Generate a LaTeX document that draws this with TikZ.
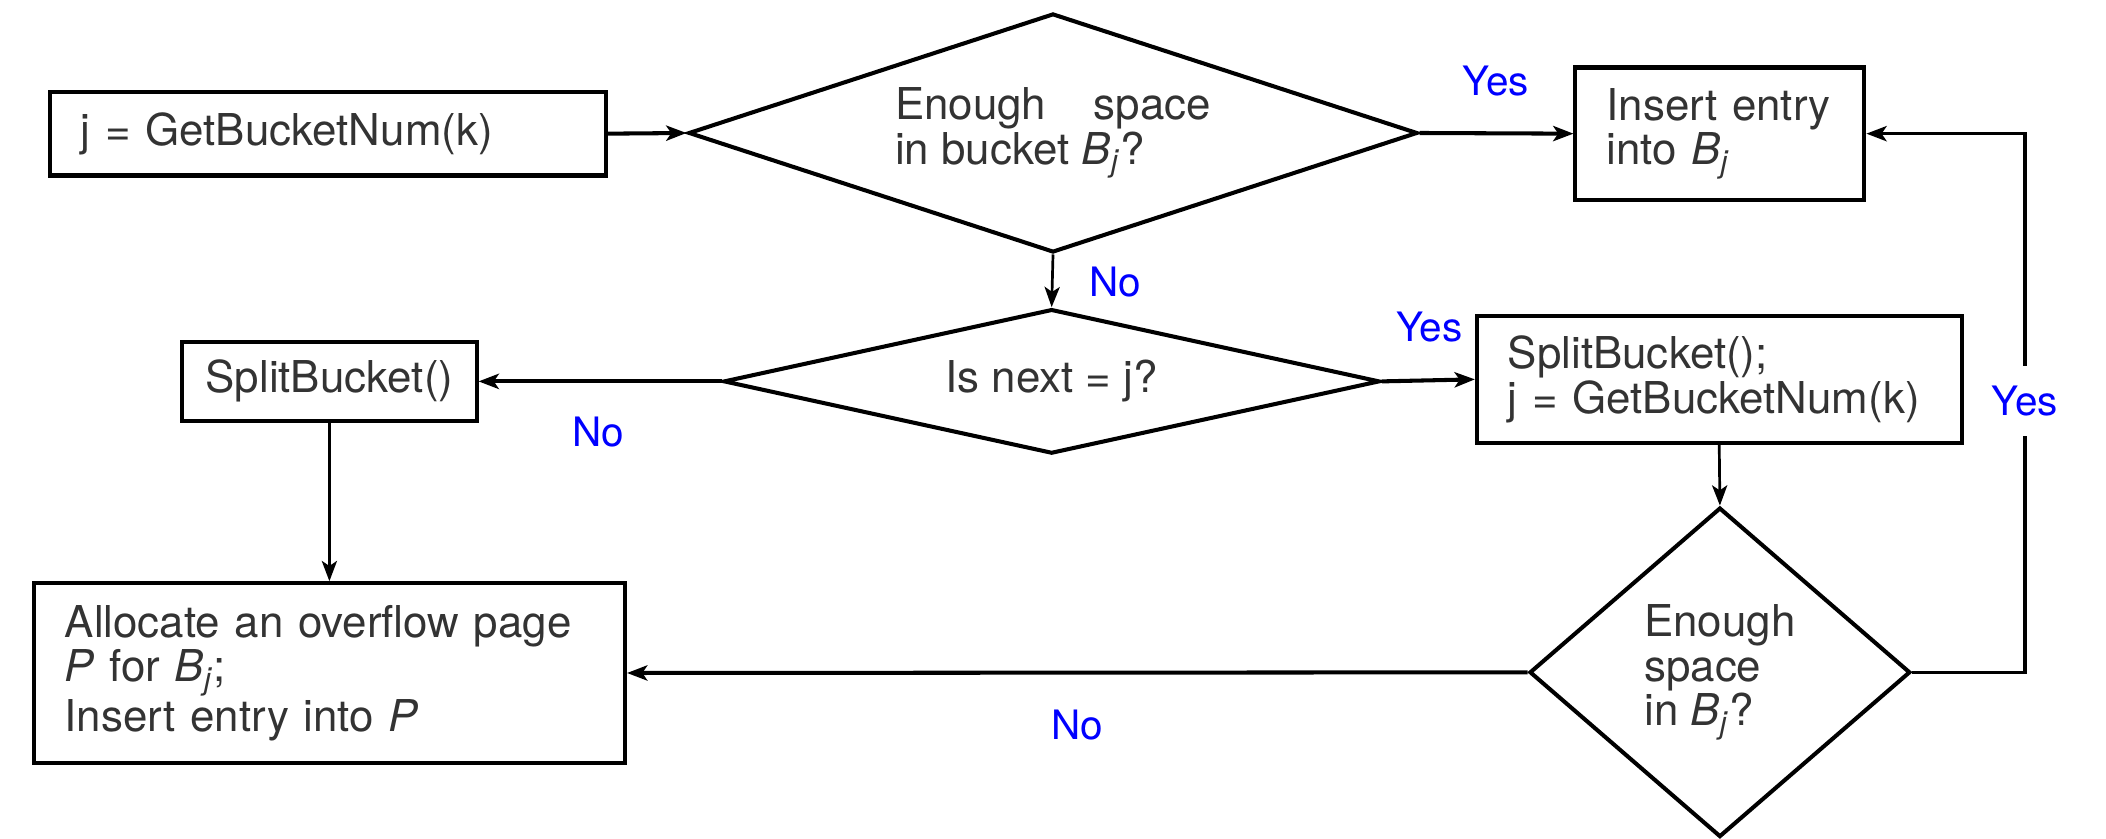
\documentclass[tikz,border=0pt]{standalone}
\usepackage{fontspec}
\setmainfont{TeX Gyre Heros}
\usetikzlibrary{shapes.geometric,arrows.meta}
\definecolor{txt}{HTML}{333333}
\newcommand{\Bj}{\textit{B}\textsubscript{\textit{j}}}
\begin{document}
\begin{tikzpicture}[x=0.4pt,y=-0.4pt,
	every node/.style={font=\fontsize{13}{13.2}\selectfont, text=txt},
	box/.style={draw, line width=1.2pt, inner xsep=9.2pt, inner ysep=0pt, align=left},
	dia/.style={draw, diamond, line width=1.2pt, inner sep=0pt, align=left},
	lbl/.style={text=blue, font=\fontsize{12}{12}\selectfont},
	arr/.style={-{Stealth[length=6pt,width=4.5pt,inset=1.5pt]}, line width=1.2pt},
	tarr/.style={arr, line width=0.8pt}]
		\useasboundingbox (0,0) rectangle (1560,621);
		\node (1)[box, text width=146.4pt, minimum height=24.8pt] at (243,99) {j = GetBucketNum(k)};
		\node (2)[box, text width=67.2pt, minimum height=39.2pt] at (1274,99) {Insert entry\\into \Bj};
		\node (3)[dia, aspect=3.05, minimum width=216pt, minimum height=70.8pt] at (780,98.5) {\makebox[93.6pt][s]{Enough space}\\in bucket \Bj?};
		\node (4)[dia, aspect=4.54, minimum width=194.4pt, minimum height=42.8pt] at (779,282.5) {Is next = j?};
		\node (5)[box, align=center, inner xsep=0pt, minimum width=87.2pt, minimum height=23.6pt] at (244,282.5) {SplitBucket()};
		\node (6)[box, text width=125.2pt, minimum height=37.6pt] at (1273.5,281) {SplitBucket();\\j = GetBucketNum(k)};
		\node (7)[dia, aspect=1.16, minimum width=112.8pt, minimum height=97.6pt] at (1274,498) {Enough\\space\\in \Bj?};
		\node (8)[box, text width=156.8pt, minimum height=53.2pt] at (244,498.5) {\makebox[156.8pt][s]{Allocate an overflow page}\\\textit{P} for \Bj;\\Insert entry into \textit{P}};
		\coordinate (r) at (1500,297);
		\draw[arr] (1.east)--(3.west);
		\draw[arr] (3.east)--(2.west);
		\draw[tarr] (3.south)--(4.north);
		\draw[arr] (4.west)--(5.east);
		\draw[arr] (4.east)--(6.west);
		\draw[tarr] (5.south)--(8.north);
		\draw[tarr] (6.south)--(7.north);
		\draw[arr] (7.west)--(8.east);
		\draw[arr, line width=1pt] (7.east)-|(r)|-(2.east);
		\node (y1)[lbl] at (1108,60) {Yes};
		\node (n1)[lbl] at (826,209) {No};
		\node (y2)[lbl] at (1059,242) {Yes};
		\node (n2)[lbl] at (443,320) {No};
		\node (y3)[lbl, fill=white, inner ysep=6pt] at (r) {Yes};
		\node (n3)[lbl] at (798,537) {No};
	\end{tikzpicture}
\end{document}
